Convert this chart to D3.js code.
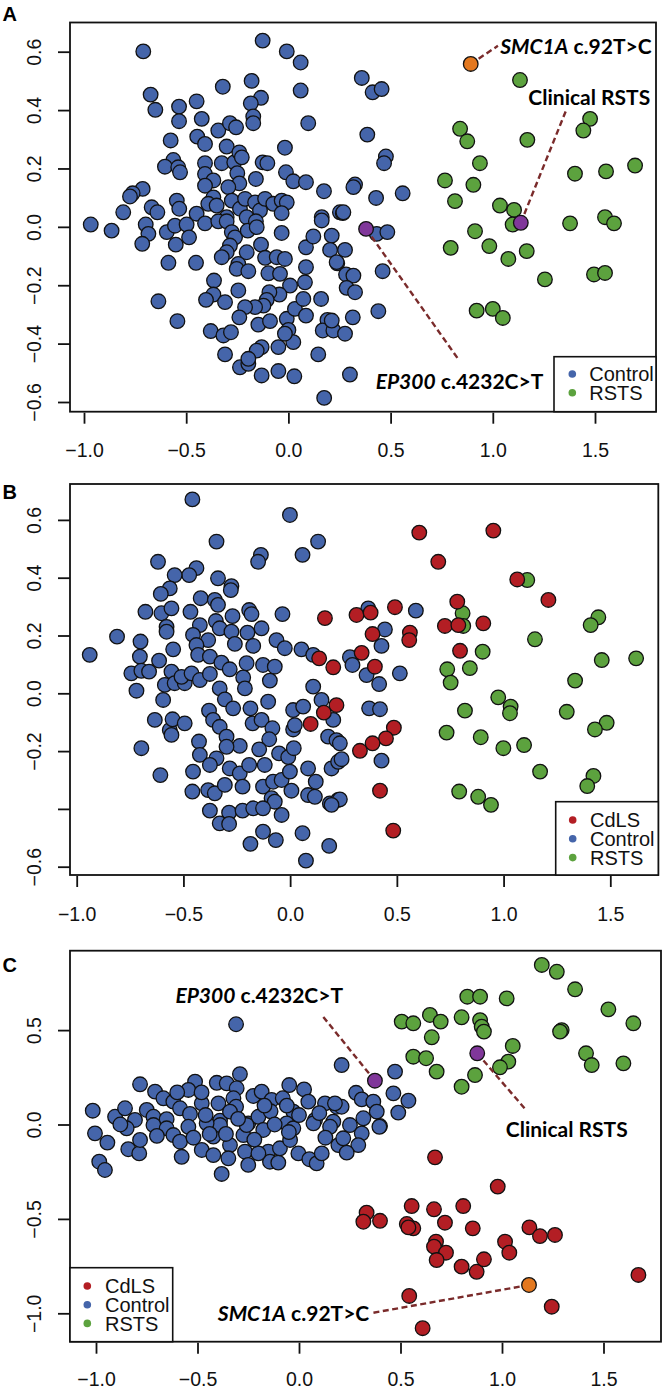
<!DOCTYPE html>
<html><head><meta charset="utf-8">
<script src="https://cdn.jsdelivr.net/npm/d3@7"></script>
<style>body{margin:0;background:#fff}</style>
</head><body><svg id="chart" width="664" height="1389"></svg>
<script>
// ---------------- DATA ----------------
const xTicks = [-1.0, -0.5, 0.0, 0.5, 1.0, 1.5];
const yTicksA = [-0.6, -0.4, -0.2, 0.0, 0.2, 0.4, 0.6];
const yTicksB = [-0.6, -0.4, -0.2, 0.0, 0.2, 0.4, 0.6];
const yTicksC = [-1.0, -0.5, 0.0, 0.5];
const hiddenLabelsB = [-0.4];

const legendA = ["Control", "RSTS"];
const legendB = ["CdLS", "Control", "RSTS"];
const legendC = ["CdLS", "Control", "RSTS"];

const controlA = [[-0.71,0.601],[-0.126,0.638],[-0.008,0.601],[0.06,0.563],[0.06,0.467],[0.097,0.355],[-0.321,0.48],[-0.18,0.5],[-0.134,0.442],[-0.184,0.423],[-0.172,0.378],[-0.172,0.355],[-0.674,0.453],[-0.651,0.401],[-0.535,0.412],[-0.535,0.362],[-0.449,0.43],[-0.424,0.37],[-0.576,0.296],[-0.343,0.33],[-0.286,0.355],[-0.256,0.341],[-0.446,0.309],[-0.408,0.284],[-0.302,0.275],[-0.017,0.271],[-0.563,0.229],[-0.604,0.206],[-0.539,0.204],[-0.53,0.187],[-0.408,0.218],[-0.326,0.218],[-0.265,0.221],[-0.24,0.255],[-0.228,0.238],[-0.126,0.221],[-0.103,0.218],[-0.408,0.181],[-0.25,0.184],[-0.367,0.159],[-0.24,0.149],[-0.159,0.164],[-0.012,0.187],[0.024,0.156],[0.086,0.153],[0.174,0.122],[-0.713,0.13],[-0.762,0.115],[-0.775,0.104],[-0.408,0.141],[-0.294,0.136],[-0.367,0.101],[-0.392,0.079],[-0.546,0.09],[-0.534,0.062],[-0.669,0.067],[-0.641,0.05],[-0.808,0.05],[-0.277,0.09],[-0.237,0.062],[-0.212,0.096],[-0.163,0.084],[-0.139,0.056],[-0.114,0.096],[-0.074,0.079],[-0.033,0.09],[-0.008,0.084],[-0.033,0.047],[0.163,0.033],[0.252,0.05],[-0.449,0.045],[-0.302,0.033],[-0.204,0.033],
[-0.967,0.008],[-0.865,-0.013],[-0.698,0.008],[-0.685,-0.024],[-0.715,-0.058],[-0.595,-0.018],[-0.555,0.004],[-0.498,0.008],[-0.486,-0.036],[-0.551,-0.061],[-0.587,-0.123],[-0.452,-0.123],[-0.408,0.012],[-0.351,0.073],[-0.343,0.019],[-0.302,0.019],[-0.277,-0.018],[-0.261,-0.036],[-0.286,-0.064],[-0.302,-0.087],[-0.326,-0.104],[-0.245,-0.127],[-0.253,-0.144],[-0.196,-0.152],[-0.204,-0.087],[-0.199,-0.013],[-0.159,0.019],[-0.155,-0.001],[-0.134,-0.061],[-0.114,-0.106],[-0.057,-0.104],[-0.017,-0.11],[-0.033,-0.021],[-0.098,-0.159],[-0.041,-0.161],[0.008,-0.201],[-0.044,-0.232],[-0.093,-0.224],[-0.106,-0.25],[-0.122,-0.27],[-0.163,-0.275],[-0.212,-0.275],[-0.245,-0.218],[-0.364,-0.184],[-0.367,-0.232],[-0.403,-0.25],[-0.31,-0.258],[-0.636,-0.255],[-0.543,-0.323],[-0.38,-0.357],[-0.318,-0.372],[-0.281,-0.361],[-0.24,-0.31],[-0.147,-0.335],[-0.09,-0.323],[-0.008,-0.315],[0,-0.353],[0.024,-0.395],[0.032,-0.281],[0.073,-0.247],[0.081,-0.19],[0.086,-0.138],[0.086,-0.07],[0.122,-0.033],[0.163,0.022],[0.212,-0.03],[0.204,-0.079],[0.239,-0.125],[0.16,-0.247],[0.191,-0.319],[0.168,-0.355],[0.22,-0.355],[0.086,-0.304],[-0.049,-0.412],[-0.131,-0.412],[-0.155,-0.424],[-0.31,-0.437],[-0.237,-0.481],[-0.196,-0.469],[-0.196,-0.452],[-0.131,-0.509],[-0.049,-0.494],[0.029,-0.512],[0.146,-0.437],[0.175,-0.586],[-0.017,-0.366],
[0.266,0.047],[0.277,-0.079],[0.236,-0.121],[0.282,-0.163],[0.318,-0.167],[0.285,-0.209],[0.326,-0.224],[0.432,-0.024],[0.484,-0.018],[0.461,-0.152],[0.44,-0.289],[0.315,-0.31],[0.277,-0.366],[0.212,-0.321],[0.301,-0.506],
[0.359,0.51],[0.412,0.461],[0.456,0.472],[0.386,0.316],[0.477,0.241],[0.468,0.218],[0.326,0.145],[0.318,0.136],[0.429,0.099],[0.559,0.115],[0.269,0.05]];

const rstsA = [[1.133,0.503],[0.84,0.336],[0.875,0.293],[1.169,0.298],[1.476,0.37],[1.443,0.33],[0.937,0.218],[0.766,0.159],[0.905,0.144],[0.815,0.088],[1.402,0.182],[1.554,0.19],[1.696,0.21],[1.035,0.073],[1.104,0.058],[1.097,0.008],[1.378,0.012],[1.549,0.033],[1.593,0.012],[0.913,-0.015],[0.794,-0.072],[0.983,-0.066],[1.166,-0.083],[1.076,-0.11],[1.255,-0.18],[1.495,-0.163],[1.549,-0.158],[0.921,-0.287],[1.0,-0.281],[1.049,-0.312]];

const highlightA = [["SMC1A",0.892,0.558],["Clinical",1.137,0.014],["EP300",0.38,-0.007]];

const controlB = [[-0.458,0.671],[-0.001,0.617],[0.131,0.525],[0.058,0.479],[-0.345,0.525],[-0.619,0.455],[-0.137,0.479],[-0.15,0.455],[-0.439,0.433],[-0.473,0.409],[-0.541,0.409],[-0.338,0.398],[-0.564,0.363],[-0.606,0.344],[-0.275,0.371],[-0.278,0.357],[-0.419,0.329],[-0.353,0.323],[-0.338,0.306],[-0.678,0.282],[-0.603,0.277],[-0.556,0.294],[-0.467,0.282],[-0.348,0.25],[-0.27,0.267],[-0.192,0.288],[-0.181,0.274],[-0.036,0.274],[-0.579,0.23],[-0.579,0.213],[-0.423,0.236],[-0.455,0.202],[-0.33,0.225],[-0.275,0.213],[-0.2,0.21],[-0.134,0.225],[-0.384,0.184],[-0.811,0.196],[-0.701,0.179],[-0.939,0.133],[-0.548,0.152],[-0.439,0.167],[-0.259,0.171],[-0.173,0.164],[-0.064,0.184],[-0.025,0.156],[0.053,0.152],[0.108,0.133],[-0.704,0.127],[-0.431,0.133],
[-0.744,0.069],[-0.697,0.078],[-0.661,0.075],[-0.72,0.009],[-0.614,0.113],[-0.556,0.075],[-0.587,0.029],[-0.541,0.035],[-0.494,0.035],[-0.595,-0.023],[-0.509,0.057],[-0.462,0.069],[-0.376,0.127],[-0.423,0.046],[-0.376,0.067],[-0.322,0.106],[-0.283,0.083],[-0.22,0.055],[-0.204,0.104],[-0.127,0.098],[-0.072,0.092],[-0.095,0.044],[-0.212,0.017],[-0.33,0.017],[-0.306,-0.021],[-0.38,-0.06],[-0.361,-0.092],[-0.33,-0.116],[-0.298,-0.15],[-0.236,-0.182],[-0.298,-0.185],[-0.267,-0.052],[-0.186,-0.052],[-0.176,-0.104],[-0.134,-0.092],[-0.083,-0.121],[-0.103,-0.029],[-0.098,-0.159],[-0.052,-0.208],[-0.009,-0.221],[0.017,-0.19],[0.014,-0.058],[0.061,-0.046],[0.108,0.023],[0.147,-0.023],[0.014,-0.125],[0.022,-0.11],[-0.427,-0.167],[-0.423,-0.213],[-0.345,-0.225],[-0.376,-0.248],[-0.564,-0.127],[-0.556,-0.144],[-0.634,-0.092],[-0.551,-0.09],[-0.494,-0.104],[-0.697,-0.19],[-0.608,-0.283],[-0.455,-0.271],[-0.458,-0.34],[-0.384,-0.335],[-0.353,-0.346],[-0.283,-0.26],[-0.236,-0.277],[-0.192,-0.248],[-0.145,-0.194],[-0.119,-0.248],[-0.223,-0.323],[-0.306,-0.317],[-0.127,-0.323],[-0.08,-0.306],[-0.04,-0.3],[0.006,-0.337],[-0.087,-0.363],[-0.072,-0.375],[-0.001,-0.271],[0.084,-0.26],[0.12,-0.306],[0.084,-0.352],[0.116,-0.358],[-0.376,-0.406],[-0.286,-0.413],[-0.223,-0.406],[-0.173,-0.398],[-0.127,-0.398],[-0.04,-0.421],[-0.33,-0.45],[-0.286,-0.452],[-0.127,-0.479],[-0.186,-0.521],[-0.067,-0.508],[0.058,-0.484],[0.183,-0.528],[0.074,-0.579],[0.186,-0.381],[0.194,-0.26],[0.178,-0.15],[0.217,-0.162],[0.202,-0.092],[0.225,-0.237],[0.225,-0.369],
[0.366,0.294],[0.589,0.286],[0.444,0.221],[0.428,0.164],[0.28,0.125],[0.292,0.098],[0.358,0.063],[0.417,0.032],[0.514,0.069],[0.37,-0.052],[0.421,-0.055],[0.233,-0.173],[0.241,-0.228],[0.428,-0.233],[0.233,-0.367],[0.194,-0.386]];

const rstsB = [[1.111,0.392],[0.808,0.277],[0.811,0.233],[1.444,0.263],[1.408,0.236],[1.147,0.187],[0.902,0.144],[1.46,0.115],[1.621,0.121],[0.736,0.083],[0.842,0.087],[0.752,0.037],[1.335,0.044],[0.975,-0.014],[1.033,-0.046],[1.03,-0.069],[0.819,-0.06],[1.296,-0.064],[1.483,-0.102],[1.428,-0.125],[0.733,-0.136],[0.893,-0.152],[0.999,-0.19],[1.096,-0.179],[1.171,-0.271],[1.421,-0.286],[1.392,-0.321],[0.792,-0.34],[0.881,-0.358],[0.941,-0.386]];

const cdlsB = [[0.605,0.556],[0.952,0.563],[0.694,0.455],[1.064,0.394],[1.21,0.323],[0.783,0.317],[0.491,0.298],[0.311,0.271],[0.377,0.279],[0.163,0.26],[0.386,0.205],[0.561,0.21],[0.558,0.184],[0.725,0.233],[0.788,0.236],[0.905,0.242],[0.335,0.14],[0.796,0.147],[0.136,0.121],[0.202,0.09],[0.397,0.092],[0.217,-0.041],[0.158,-0.067],[0.096,-0.106],[0.486,-0.119],[0.449,-0.156],[0.386,-0.173],[0.327,-0.199],[0.421,-0.337],[0.483,-0.475]];

const controlC = [[-0.31,0.531],[-0.291,0.267],[0.21,0.315],[-0.783,0.213],[-0.512,0.227],[-0.545,0.183],[-0.405,0.221],[-0.356,0.218],[-0.307,0.192],[-0.225,0.151],[-0.184,0.174],[-0.048,0.209],[0.025,0.186],[-0.709,0.174],[-0.668,0.139],[-0.619,0.121],[-0.479,0.112],[-0.397,0.112],[-0.323,0.139],[-0.31,0.094],[-0.135,0.13],[-0.08,0.139],[0.046,0.121],[0.128,0.112],[-1.016,0.073],[-0.906,0.041],[-0.857,0.086],[-0.808,0.024],[-0.75,0.077],[-0.717,0.041],[-0.652,0.028],[-0.586,0.086],[-0.537,0.056],[-0.389,0.02],[-0.34,0.068],[-0.25,0.006],[-0.2,0.041],[-0.028,0.068],[0.079,0.024],[0.169,0.015],[-0.061,0.006],[0.186,0.094],
[-1.005,-0.047],[-0.944,-0.096],[-0.984,-0.197],[-0.956,-0.241],[-0.841,-0.131],[-0.787,-0.153],[-0.783,-0.082],[-0.849,-0.02],[-0.717,-0.003],[-0.652,-0.02],[-0.619,-0.056],[-0.586,-0.091],[-0.578,-0.171],[-0.545,-0.012],[-0.479,-0.135],[-0.422,-0.162],[-0.381,-0.262],[-0.422,-0.064],[-0.389,-0.003],[-0.34,-0.109],[-0.348,-0.179],[-0.274,-0.056],[-0.266,-0.144],[-0.25,-0.214],[-0.258,-0.003],[-0.176,-0.029],[-0.151,-0.144],[-0.143,-0.197],[-0.102,-0.202],[-0.094,-0.126],[-0.2,-0.153],[-0.044,-0.082],[-0.028,-0.02],[-0.003,-0.153],[0.051,-0.184],[0.087,-0.206],[0.112,-0.153],[0.071,0.006],[0.153,-0.012],[0.194,-0.109],[-0.455,0.006],
[0.473,0.28],[0.281,0.168],[0.309,0.133],[0.366,0.121],[0.383,0.068],[0.465,0.165],[0.539,0.126],[0.489,0.063],[0.317,0.033],[0.21,0.094],[0.177,0.112],[0.251,-0.003],[0.399,-0.008],[0.309,-0.047],[0.292,-0.109],[0.235,-0.149],[0.218,-0.073],[0.396,-0.012],
[-0.46,0.05],[-0.44,-0.05],[-0.14,0.07],[-0.12,0.0],[-0.05,-0.04],[0.0,0.05],[0.1,0.06],[-0.7,-0.06],[-0.88,0.0],[-0.52,-0.07],[-0.3,0.03],[-0.22,-0.08],[-0.6,0.17],[-0.48,0.17],[-0.17,0.1],[0.13,-0.07],[-0.36,-0.05],[-0.06,0.1]];

const rstsC = [[1.196,0.845],[1.27,0.809],[1.36,0.716],[1.524,0.61],[1.647,0.536],[1.294,0.5],[1.286,0.492],[1.414,0.377],[1.442,0.315],[1.598,0.324],[0.829,0.677],[0.892,0.677],[1.023,0.668],[0.801,0.568],[0.892,0.553],[0.9,0.518],[0.911,0.492],[0.645,0.58],[0.698,0.545],[0.506,0.545],[0.563,0.536],[0.654,0.462],[0.563,0.359],[0.626,0.351],[0.678,0.28],[1.053,0.416],[1.031,0.333],[0.99,0.303],[0.867,0.262],[0.801,0.2]];

const cdlsC = [[0.67,-0.174],[0.979,-0.329],[0.555,-0.432],[0.665,-0.449],[0.809,-0.432],[0.333,-0.467],[0.317,-0.515],[0.399,-0.51],[0.531,-0.527],[0.563,-0.55],[0.539,-0.545],[0.719,-0.52],[0.856,-0.55],[0.675,-0.621],[0.665,-0.647],[0.724,-0.679],[0.678,-0.718],[0.801,-0.753],[0.875,-0.78],[0.911,-0.714],[1.015,-0.621],[1.036,-0.679],[1.135,-0.545],[1.187,-0.591],[1.261,-0.585],[1.672,-0.797],[1.245,-0.965],[0.543,-0.908],[0.609,-1.079]];

const highlightC = [["SMC1A",1.133,-0.85],["Clinical",0.878,0.377],["EP300",0.374,0.232]];

// ---------------- STYLE / LAYOUT ----------------
const COL = {Control:"#4565AA", RSTS:"#5CA23E", CdLS:"#B31E24", SMC1A:"#E3781F", Clinical:"#80379A", EP300:"#80379A", line:"#7A2B2B"};
const R = 7.3;
const AXIS_FONT = "'Liberation Sans', Arial, Helvetica, sans-serif";
const ANN_FONT = "Lato, 'Open Sans', sans-serif";
const ANN_SIZE = 21;

const LABELS = {
  SMC1A: [["SMC1A", true], [" c.92T>C", false]],
  Clinical: [["Clinical RSTS", false]],
  EP300: [["EP300", true], [" c.4232C>T", false]]
};

const panels = [
  { letter:"A", letterY:21, box:[70,22.5,656,411.7], xr:[84,595], yd:[0.6,-0.6], yr:[51.7,402], xLabY:45.5,
    yTicks:yTicksA, hidden:[], ctrl:controlA, rsts:rstsA, cdls:null, hl:highlightA,
    legend:legendA, legBox:[554,356.7,656,411.7], legX:572.3, legTextX:589.3, legY0:374, legDy:18.7,
    ann:{ SMC1A:{end:[1.025,0.62], text:[1.036,0.592], anchor:"start"},
          Clinical:{end:[1.358,0.398], text:[1.472,0.419], anchor:"middle"},
          EP300:{end:[0.828,-0.45], text:[0.837,-0.555], anchor:"middle"} } },
  { letter:"B", letterY:499, box:[70,484,658.3,875], xr:[76.7,610.3], yd:[0.6,-0.6], yr:[519.9,866.7], xLabY:46,
    yTicks:yTicksB, hidden:hiddenLabelsB, ctrl:controlB, rsts:rstsB, cdls:cdlsB, hl:[],
    legend:legendB, legBox:[555.7,801.7,658.3,875], legX:572.7, legTextX:590, legY0:820, legDy:18.8, ann:{} },
  { letter:"C", letterY:972, box:[70,950.7,661,1341.7], xr:[96,603.5], yd:[0.5,-1.0], yr:[1030.1,1313.3], xLabY:44,
    yTicks:yTicksC, hidden:[], ctrl:controlC, rsts:rstsC, cdls:cdlsC, hl:highlightC,
    legend:legendC, legBox:[70,1267.7,172.7,1341.7], legX:87.3, legTextX:105, legY0:1286, legDy:18.7,
    ann:{ SMC1A:{end:[0.35,-1.0], text:[0.346,-1.041], anchor:"end"},
          Clinical:{end:[1.118,0.077], text:[1.319,-0.065], anchor:"middle"},
          EP300:{end:[0.112,0.58], text:[-0.196,0.642], anchor:"middle"} } }
];

const svg = d3.select("#chart");
svg.append("rect").attr("width",664).attr("height",1389).attr("fill","#fff");

panels.forEach(p => {
  const g = svg.append("g");
  const x = d3.scaleLinear().domain([-1, 1.5]).range(p.xr);
  const y = d3.scaleLinear().domain(p.yd).range(p.yr);
  const [bl, bt, br, bb] = p.box;

  const groups = [["Control", p.ctrl], ["RSTS", p.rsts], ["CdLS", p.cdls]];
  groups.forEach(([name, arr]) => {
    if (!arr) return;
    g.append("g").selectAll("circle").data(arr).join("circle")
      .attr("cx", d => x(d[0])).attr("cy", d => y(d[1])).attr("r", R)
      .attr("fill", COL[name]).attr("stroke", "#111").attr("stroke-width", 1.3);
  });

  // annotation lines
  p.hl.forEach(h => {
    const a = p.ann[h[0]];
    g.append("line")
      .attr("x1", x(h[1])).attr("y1", y(h[2]))
      .attr("x2", x(a.end[0])).attr("y2", y(a.end[1]))
      .attr("stroke", COL.line).attr("stroke-width", 2.4).attr("stroke-dasharray", "6,3.5");
  });
  // highlight points
  g.append("g").selectAll("circle").data(p.hl).join("circle")
    .attr("cx", d => x(d[1])).attr("cy", d => y(d[2])).attr("r", R)
    .attr("fill", d => COL[d[0]]).attr("stroke", "#111").attr("stroke-width", 1.3);
  // annotation texts
  p.hl.forEach(h => {
    const a = p.ann[h[0]];
    const t = g.append("text").attr("x", x(a.text[0])).attr("y", y(a.text[1]))
      .attr("text-anchor", a.anchor).attr("font-family", ANN_FONT).attr("font-weight", 700)
      .attr("font-size", ANN_SIZE).attr("fill", "#000");
    LABELS[h[0]].forEach(([s, it]) => t.append("tspan").attr("font-style", it ? "italic" : "normal").text(s));
  });

  // box
  g.append("rect").attr("x", bl).attr("y", bt).attr("width", br - bl).attr("height", bb - bt)
    .attr("fill", "none").attr("stroke", "#111").attr("stroke-width", 1.8);

  // x axis
  const fmt = d3.format(".1f");
  const xa = g.append("g").attr("transform", `translate(0,${bb})`)
    .call(d3.axisBottom(x).tickValues(xTicks).tickSize(12).tickFormat(fmt));
  xa.select(".domain").remove();
  xa.selectAll(".tick line").attr("stroke", "#111").attr("stroke-width", 1.8).attr("y1", 1);
  xa.selectAll(".tick text").attr("y", p.xLabY).attr("dy", null)
    .attr("font-family", AXIS_FONT).attr("font-size", 19.5).attr("fill", "#111");

  // y axis
  const ya = g.append("g").attr("transform", `translate(${bl},0)`)
    .call(d3.axisLeft(y).tickValues(p.yTicks).tickSize(12)
      .tickFormat(v => p.hidden.some(h => Math.abs(h - v) < 1e-9) ? "" : fmt(v)));
  ya.select(".domain").remove();
  ya.selectAll(".tick line").attr("stroke", "#111").attr("stroke-width", 1.8);
  ya.selectAll(".tick text").attr("x", null).attr("dy", null)
    .attr("transform", "translate(-29.5,0) rotate(-90)").attr("text-anchor", "middle")
    .attr("font-family", AXIS_FONT).attr("font-size", 19.5).attr("fill", "#111");

  // legend
  const [lx0, ly0, lx1, ly1] = p.legBox;
  g.append("rect").attr("x", lx0).attr("y", ly0).attr("width", lx1 - lx0).attr("height", ly1 - ly0)
    .attr("fill", "#fff").attr("stroke", "#111").attr("stroke-width", 1.6);
  const li = g.append("g").selectAll("g").data(p.legend).join("g")
    .attr("transform", (d, i) => `translate(0,${p.legY0 + i * p.legDy})`);
  li.append("circle").attr("cx", p.legX).attr("cy", 0).attr("r", 3.8).attr("fill", d => COL[d]);
  li.append("text").attr("x", p.legTextX).attr("y", 0).attr("dy", "0.36em")
    .attr("font-family", AXIS_FONT).attr("font-size", 20).attr("fill", "#111").text(d => d);

  // panel letter
  svg.append("text").attr("x", 2.5).attr("y", p.letterY).attr("font-family", AXIS_FONT)
    .attr("font-weight", 700).attr("font-size", 20).attr("fill", "#000").text(p.letter);
});
</script></body></html>
